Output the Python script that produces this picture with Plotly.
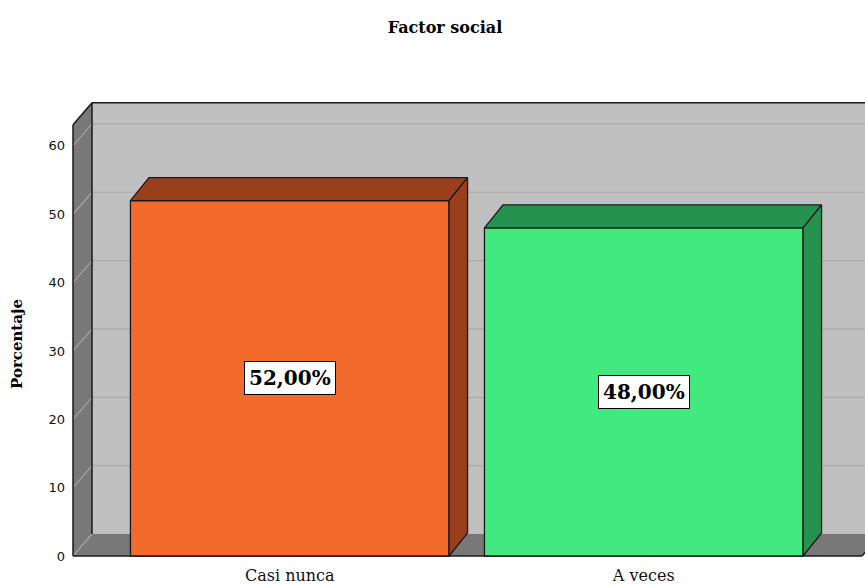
import plotly.graph_objects as go

# ---- data -------------------------------------------------------------
categories = ["Casi nunca", "A veces"]
percentages = [52.0, 48.0]
value_labels = ["52,00%", "48,00%"]
y_ticks = [0, 10, 20, 30, 40, 50, 60]

# ---- styling ----------------------------------------------------------
face_colors = ["#F26A2C", "#42E97F"]
shade_colors = ["#9A3F1C", "#26924F"]
WALL_BACK = "#C0C0C0"
WALL_SIDE = "#787878"
GRID_BACK = "#AAAAAA"
GRID_SIDE = "#A4A4A4"
EDGE = "#1A1A1A"

W, H = 865, 586
M_L, M_R, M_T, M_B = 72, 0, 76, 28

# pixels per category step and per percentage point
CAT_PX = 354.0
PCT_PX = 6.835
FIRST_CAT_PX = 289.75      # horizontal centre of the first category
plot_w = W - M_L - M_R
plot_h = H - M_T - M_B
x_lo = -(FIRST_CAT_PX - M_L) / CAT_PX
x_range = [x_lo, x_lo + plot_w / CAT_PX]
y_lo = -2 / PCT_PX
y_range = [y_lo, y_lo + plot_h / PCT_PX]

# 3-D box around the plot: depth offsets and extents (axis units)
wall_dx, wall_dy = 19 / CAT_PX, 22 / PCT_PX
bar_dx, bar_dy = 18.5 / CAT_PX, 23 / PCT_PX
bar_w = 318.6 / CAT_PX
wall_left = x_lo + 1 / CAT_PX
wall_right = x_lo + (862 - M_L) / CAT_PX
wall_top = 63.1

shapes = []
# back wall
shapes.append(dict(type="rect", xref="x", yref="y", layer="below",
                   x0=wall_left + wall_dx, x1=wall_right + wall_dx,
                   y0=wall_dy, y1=wall_top + wall_dy,
                   fillcolor=WALL_BACK, line=dict(width=0)))
# left side wall
shapes.append(dict(type="path", xref="x", yref="y", layer="below",
                   path=(f"M{wall_left},0 L{wall_left},{wall_top} "
                         f"L{wall_left + wall_dx},{wall_top + wall_dy} "
                         f"L{wall_left + wall_dx},{wall_dy} Z"),
                   fillcolor=WALL_SIDE, line=dict(width=0)))
# floor
shapes.append(dict(type="path", xref="x", yref="y", layer="below",
                   path=(f"M{wall_left},0 L{wall_left + wall_dx},{wall_dy} "
                         f"L{wall_right + wall_dx},{wall_dy} L{wall_right},0 Z"),
                   fillcolor=WALL_SIDE, line=dict(width=0)))
# grid lines on the back wall and their diagonals on the side wall
for t in y_ticks:
    if t > 0:
        shapes.append(dict(type="line", xref="x", yref="y", layer="below",
                           x0=wall_left + wall_dx, x1=wall_right + wall_dx,
                           y0=t + wall_dy, y1=t + wall_dy,
                           line=dict(color=GRID_BACK, width=1.2)))
    shapes.append(dict(type="line", xref="x", yref="y", layer="below",
                       x0=wall_left, x1=wall_left + wall_dx,
                       y0=t, y1=t + wall_dy,
                       line=dict(color=GRID_SIDE, width=1.2)))
# box outline
outline = [
    (wall_left, 0, wall_left, wall_top),
    (wall_left, wall_top, wall_left + wall_dx, wall_top + wall_dy),
    (wall_left + wall_dx, wall_top + wall_dy, wall_right + wall_dx, wall_top + wall_dy),
    (wall_left + wall_dx, wall_dy, wall_left + wall_dx, wall_top + wall_dy),
    (wall_left, 0, wall_right, 0),
    (wall_right, 0, wall_right + wall_dx, wall_dy),
]
for a, b, c, d in outline:
    shapes.append(dict(type="line", xref="x", yref="y", layer="below",
                       x0=a, y0=b, x1=c, y1=d,
                       line=dict(color=EDGE, width=1.5)))

fig = go.Figure()

# front faces of the bars
xs = list(range(len(categories)))
fig.add_trace(go.Bar(
    x=xs, y=percentages, width=bar_w,
    marker=dict(color=face_colors, line=dict(color=EDGE, width=1.3)),
    hoverinfo="skip", showlegend=False,
))

# top and side faces giving the bars depth
for i, v in enumerate(percentages):
    xl, xr = i - bar_w / 2, i + bar_w / 2
    fig.add_trace(go.Scatter(
        x=[xl, xr, xr + bar_dx, xl + bar_dx, xl],
        y=[v, v, v + bar_dy, v + bar_dy, v],
        fill="toself", fillcolor=shade_colors[i], mode="lines",
        line=dict(color=EDGE, width=1.3), hoverinfo="skip", showlegend=False,
    ))
    fig.add_trace(go.Scatter(
        x=[xr, xr + bar_dx, xr + bar_dx, xr, xr],
        y=[0, bar_dy, v + bar_dy, v, 0],
        fill="toself", fillcolor=shade_colors[i], mode="lines",
        line=dict(color=EDGE, width=1.3), hoverinfo="skip", showlegend=False,
    ))

# value labels in the middle of each bar
annotations = []
for i, (v, lab) in enumerate(zip(percentages, value_labels)):
    annotations.append(dict(
        x=i, y=v / 2, xref="x", yref="y", text=lab, showarrow=False,
        font=dict(family="DejaVu Serif", size=20, color="#000", weight="bold"),
        bgcolor="#FFFFFF", bordercolor="#000", borderwidth=1, borderpad=4,
    ))

# y-axis title
annotations.append(dict(
    x=(17 - M_L) / plot_w, y=(H - M_B - 2 - 342) / plot_h,
    xref="paper", yref="paper", text="Porcentaje", showarrow=False,
    textangle=-90, xanchor="center", yanchor="middle",
    font=dict(family="DejaVu Serif", size=15, color="#000", weight="bold"),
))

fig.update_layout(
    width=W, height=H,
    margin=dict(l=M_L, r=M_R, t=M_T, b=M_B),
    paper_bgcolor="#FFFFFF", plot_bgcolor="#FFFFFF",
    title=dict(text="Factor social", x=445 / W, xanchor="center",
               y=1 - 27 / H, yanchor="middle", xref="container", yref="container",
               font=dict(family="DejaVu Serif", size=16, color="#000", weight="bold")),
    shapes=shapes,
    annotations=annotations,
    xaxis=dict(range=x_range, tickvals=xs, ticktext=categories,
               showgrid=False, zeroline=False, showline=False, ticks="",
               ticklabelstandoff=6,
               tickfont=dict(family="DejaVu Serif", size=16, color="#111")),
    yaxis=dict(range=y_range, tickvals=y_ticks, showgrid=False, zeroline=False,
               showline=False, ticks="", ticklabelstandoff=6,
               tickfont=dict(family="DejaVu Sans", size=13, color="#111")),
)

fig.write_html("out.html")
